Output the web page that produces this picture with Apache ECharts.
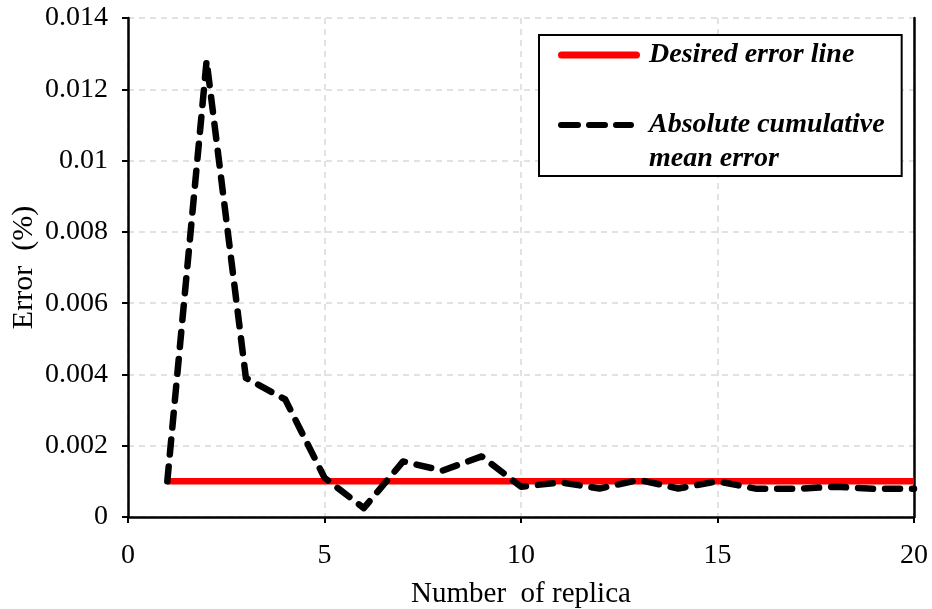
<!DOCTYPE html>
<html>
<head>
<meta charset="utf-8">
<script src="https://cdn.jsdelivr.net/npm/echarts@6/dist/echarts.min.js"></script>
<style>
  html, body { margin: 0; padding: 0; background: #fff; }
  #chart { width: 932px; height: 609px; }
</style>
</head>
<body>
<div id="chart"></div>
<script>
// Replica counts and error values
const replicas = [1, 2, 3, 4, 5, 6, 7, 8, 9, 10, 11, 12, 13, 14, 15, 16, 17, 18, 19, 20];
const cumulativeError = [0.001, 0.0128, 0.0039, 0.0033, 0.0011, 0.00025, 0.00156, 0.0013, 0.0017, 0.00085,
                         0.00097, 0.0008, 0.00104, 0.0008, 0.001, 0.00079, 0.00079, 0.00085, 0.00079, 0.00079];
const desiredError = [0.001, 0.001];
const desiredRange = [1, 20];
const xTicks = [0, 5, 10, 15, 20];
const yTicks = [0, 0.002, 0.004, 0.006, 0.008, 0.01, 0.012, 0.014];

const FONT = "'Liberation Serif', 'Times New Roman', serif";

// Legend swatches drawn in an 82x40 box; tiny corner specks fix the box size
// so the dashed swatch sits level with the first line of its two-line label.
const SPECKS = 'M0,0h0.01v0.01h-0.01Z M81.99,39.99h0.01v0.01h-0.01Z';
const solidIcon = 'path://M3.5,16.5H78.5A3.5,3.5 0 0 1 78.5,23.5H3.5A3.5,3.5 0 0 1 3.5,16.5Z ' + SPECKS;
const pill = (x0, x1) => `M${x0 + 3},0H${x1 - 3}A3,3 0 0 1 ${x1 - 3},6H${x0 + 3}A3,3 0 0 1 ${x0 + 3},0Z`;
const dashedIcon = 'path://' + [pill(0, 23), pill(28, 50), pill(55, 76)].join(' ') + ' ' + SPECKS;

const chart = echarts.init(document.getElementById('chart'));

const axisLineStyle = { color: '#000', width: 2.5 };
const gridLine = { show: true, lineStyle: { color: '#d9d9d9', width: 1.5, type: [6, 5] } };

chart.setOption({
  backgroundColor: '#fff',
  animation: false,
  grid: { left: 128, right: 18, top: 18, bottom: 92, containLabel: false, outerBoundsMode: 'none' },
  legend: {
    orient: 'vertical',
    left: 539,
    top: 35,
    padding: [0, 17, 0, 19],
    itemGap: 33,
    itemWidth: 82,
    itemHeight: 40,
    symbolKeepAspect: true,
    borderColor: '#000',
    borderWidth: 2,
    backgroundColor: '#fff',
    itemStyle: { borderWidth: 0 },
    textStyle: { fontFamily: FONT, fontSize: 28, fontWeight: 'bold', fontStyle: 'italic', color: '#000', lineHeight: 34, padding: [0, 0, 0, 4] },
    data: [
      { name: 'Desired error line', icon: solidIcon },
      { name: 'Absolute cumulative\nmean error', icon: dashedIcon }
    ]
  },
  xAxis: {
    type: 'value',
    min: xTicks[0],
    max: xTicks[xTicks.length - 1],
    interval: xTicks[1] - xTicks[0],
    name: 'Number  of replica',
    nameLocation: 'middle',
    nameGap: 63,
    nameMoveOverlap: false,
    nameTextStyle: { fontFamily: FONT, fontSize: 29, color: '#000' },
    axisLine: { lineStyle: axisLineStyle },
    axisTick: { show: true, length: 6, lineStyle: { color: '#000', width: 2 } },
    axisLabel: { fontFamily: FONT, fontSize: 28, color: '#000', margin: 25 },
    splitLine: gridLine
  },
  yAxis: [{
    type: 'value',
    min: yTicks[0],
    max: yTicks[yTicks.length - 1],
    interval: yTicks[1] - yTicks[0],
    name: 'Error  (%)',
    nameLocation: 'middle',
    nameGap: 89,
    nameMoveOverlap: false,
    nameTextStyle: { fontFamily: FONT, fontSize: 30, color: '#000' },
    axisLine: { show: true, lineStyle: axisLineStyle },
    axisTick: { show: true, length: 6, lineStyle: { color: '#000', width: 2 } },
    axisLabel: { fontFamily: FONT, fontSize: 28, color: '#000', margin: 20 },
    splitLine: gridLine
  }, {
    type: 'value',
    position: 'right',
    min: yTicks[0],
    max: yTicks[yTicks.length - 1],
    axisLine: { show: true, lineStyle: axisLineStyle },
    axisTick: { show: false },
    axisLabel: { show: false },
    splitLine: { show: false }
  }],
  series: [
    {
      name: 'Desired error line',
      type: 'line',
      symbol: 'none',
      data: desiredRange.map((x, i) => [x, desiredError[i]]),
      lineStyle: { color: '#ff0000', width: 6.5 },
      itemStyle: { color: '#ff0000' },
      z: 2
    },
    {
      name: 'Absolute cumulative\nmean error',
      type: 'line',
      symbol: 'none',
      data: replicas.map((x, i) => [x, cumulativeError[i]]),
      lineStyle: { color: '#000', width: 6.5, type: [15, 12], cap: 'round', join: 'round' },
      itemStyle: { color: '#000' },
      z: 3
    }
  ]
});
</script>
</body>
</html>
